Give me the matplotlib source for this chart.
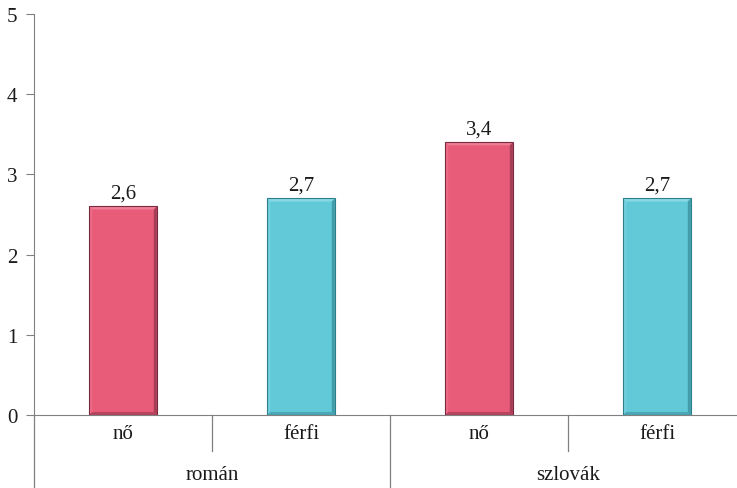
import matplotlib
matplotlib.use("Agg")
import matplotlib.pyplot as plt
from matplotlib.patches import Rectangle, Polygon

plt.rcParams['font.family'] = ['Liberation Serif', 'DejaVu Serif']

groups = ["román", "szlovák"]
sexes = ["nő", "férfi"]
values = [2.6, 2.7, 3.4, 2.7]
value_labels = ["2,6", "2,7", "3,4", "2,7"]
yticks = [0, 1, 2, 3, 4, 5]

pink = "#E95C79"
teal = "#62C9D8"
colors = [pink, teal, pink, teal]
dark = {pink: "#7A2A3E", teal: "#2E7F8C"}
light = {pink: "#F48CA2", teal: "#9BE0EA"}

W, H = 737, 489
fig = plt.figure(figsize=(W / 100, H / 100), dpi=100)
ax_l, ax_r = 34, 737
y0, y5 = 416, 15
ax = fig.add_axes([ax_l / W, 1 - y0 / H, (ax_r - ax_l) / W, (y0 - y5) / H])

slot = 178.0
ax.set_xlim(-0.5, -0.5 + (ax_r - ax_l) / slot)
ax.set_ylim(0, 5)

x = list(range(len(values)))
bw = 0.38
bars = ax.bar(x, values, width=bw, color=colors, edgecolor="none", zorder=2)

# bevelled edges on each bar
for b, c in zip(bars, colors):
    bx, by, w, h = b.get_x(), b.get_y(), b.get_width(), b.get_height()
    ex = w * 0.045
    ey = ex * slot / 80.2
    # top light strip
    ax.add_patch(Polygon([(bx, by + h), (bx + w, by + h), (bx + w - ex, by + h - ey), (bx + ex, by + h - ey)],
                         closed=True, facecolor=light[c], edgecolor="none", alpha=0.7, zorder=3))
    # left light strip
    ax.add_patch(Polygon([(bx, by), (bx, by + h), (bx + ex, by + h - ey), (bx + ex, by + ey)],
                         closed=True, facecolor=light[c], edgecolor="none", alpha=0.3, zorder=3))
    # right dark strip
    ax.add_patch(Polygon([(bx + w, by), (bx + w, by + h), (bx + w - ex, by + h - ey), (bx + w - ex, by + ey)],
                         closed=True, facecolor=dark[c], edgecolor="none", alpha=0.6, zorder=3))
    # bottom dark strip
    ax.add_patch(Polygon([(bx, by), (bx + w, by), (bx + w - ex, by + ey), (bx + ex, by + ey)],
                         closed=True, facecolor=dark[c], edgecolor="none", alpha=0.45, zorder=3))
    ax.add_patch(Rectangle((bx, by), w, h, facecolor="none", edgecolor=dark[c], linewidth=0.8, zorder=4))

for xi, v, lab in zip(x, values, value_labels):
    ax.text(xi, v + 0.05, lab, ha="center", va="bottom", fontsize=15, color="#1a1a1a")

for s in ["top", "right"]:
    ax.spines[s].set_visible(False)
ax.spines["left"].set_color("#808080")
ax.spines["bottom"].set_color("#808080")
ax.spines["left"].set_bounds(0, 5)
ax.set_yticks(yticks)
ax.set_yticklabels([str(t) for t in yticks], fontsize=15, color="#1a1a1a")
ax.tick_params(axis="y", length=6, color="#808080", pad=6)
ax.set_xticks([])

# category axis below the plot
line_kw = dict(color="#808080", linewidth=0.9, clip_on=False)
ax.plot([-0.5, -0.5], [0, -(489 - 416) / 80.2], **line_kw)
ax.plot([1.5, 1.5], [0, -(489 - 416) / 80.2], **line_kw)
for sep in [0.5, 2.5]:
    ax.plot([sep, sep], [0, -36 / 80.2], **line_kw)

for i, xi in enumerate(x):
    ax.text(xi, -19 / 80.2, sexes[i % 2], ha="center", va="center", fontsize=15, color="#1a1a1a")
for g, gname in enumerate(groups):
    ax.text(2 * g + 0.5, -60 / 80.2, gname, ha="center", va="center", fontsize=15, color="#1a1a1a")

fig.savefig("out.png", dpi=100)
